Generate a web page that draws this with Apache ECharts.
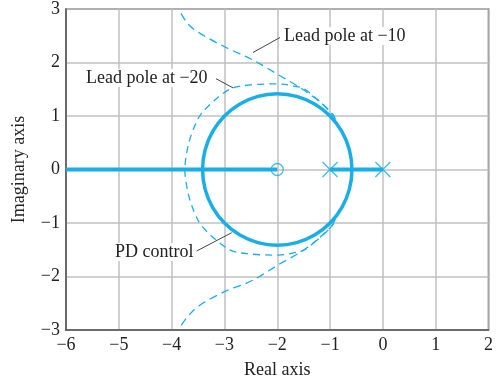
<!DOCTYPE html>
<html>
<head>
<meta charset="utf-8">
<script src="https://cdn.jsdelivr.net/npm/echarts@6/dist/echarts.min.js"></script>
<style>
html,body{margin:0;padding:0;background:#fff;}
#c{width:496px;height:385px;}
</style>
</head>
<body>
<div id="c"></div>
<script>
// ---- data ----
const xTicks = [-6, -5, -4, -3, -2, -1, 0, 1, 2];
const yTicks = [-3, -2, -1, 0, 1, 2, 3];

const pdCircle = [
  [-0.586,0],[-0.634,0.366],[-0.775,0.707],[-1,1],[-1.293,1.225],[-1.634,1.366],[-2,1.414],
  [-2.366,1.366],[-2.707,1.225],[-3,1],[-3.225,0.707],[-3.366,0.366],[-3.414,0],
  [-3.366,-0.366],[-3.225,-0.707],[-3,-1],[-2.707,-1.225],[-2.366,-1.366],[-2,-1.414],
  [-1.634,-1.366],[-1.293,-1.225],[-1,-1],[-0.775,-0.707],[-0.634,-0.366],[-0.586,0]
];

const lead10Upper = [[-0.9,0.93],[-0.97,1.04],[-1.2,1.27],[-1.57,1.53],[-1.98,1.77],[-2.32,1.97],[-2.57,2.10],[-2.97,2.28],[-3.44,2.53],[-3.69,2.72],[-3.87,3.0]];
const lead10Lower = [[-0.9,-0.93],[-0.98,-1.07],[-1.2,-1.28],[-1.57,-1.55],[-1.98,-1.78],[-2.32,-1.99],[-2.57,-2.12],[-2.97,-2.27],[-3.44,-2.52],[-3.69,-2.74],[-3.87,-2.99]];

const lead20 = [
  [-0.9,0.95],[-1.01,1.10],[-1.45,1.48],[-1.7,1.56],[-1.98,1.60],[-2.51,1.58],[-2.88,1.51],[-3.19,1.29],
  [-3.44,1.04],[-3.56,0.82],[-3.66,0.55],[-3.72,0.28],[-3.75,0],[-3.72,-0.28],[-3.66,-0.55],[-3.56,-0.82],
  [-3.44,-1.04],[-3.19,-1.29],[-2.88,-1.51],[-2.51,-1.58],[-1.98,-1.60],[-1.7,-1.56],[-1.45,-1.48],
  [-1.01,-1.10],[-0.9,-0.95]
];

const realAxisLeft = [[-6,0],[-2,0]];
const realAxisMid = [[-1,0],[0,0]];
const zeros = [[-2,0]];
const poles = [[-1,0],[0,0]];

const labels = {
  lead10: 'Lead pole at \u221210',
  lead20: 'Lead pole at \u221220',
  pd: 'PD control'
};

// ---- chart ----
const C = '#1aaee8';
const FONT = '"Liberation Serif","DejaVu Serif",serif';
const fmt = v => String(v).replace('-', '\u2212');

const chart = echarts.init(document.getElementById('c'), null, {renderer:'canvas'});

function lineSeries(data, opts) {
  return Object.assign({
    type: 'line', data: data, showSymbol: false, symbol: 'none',
    clip: true, animation: false, silent: true
  }, opts);
}

// smooth curve through data points (Catmull-Rom -> Bezier), positioned by the axes
function curveSeries(points, closed, width, dash) {
  return {
    type: 'custom', data: points, clip: true, silent: true, animation: false,
    renderItem: function (params, api) {
      if (params.dataIndex !== 0) return null;
      const p = points.map(d => api.coord(d));
      const n = p.length;
      const get = i => {
        if (closed) { return p[((i % (n - 1)) + (n - 1)) % (n - 1)]; }
        return p[Math.max(0, Math.min(n - 1, i))];
      };
      let d = 'M' + p[0][0] + ' ' + p[0][1];
      for (let i = 0; i < n - 1; i++) {
        const p0 = get(i - 1), p1 = get(i), p2 = get(i + 1), p3 = get(i + 2);
        const c1x = p1[0] + (p2[0] - p0[0]) / 6, c1y = p1[1] + (p2[1] - p0[1]) / 6;
        const c2x = p2[0] - (p3[0] - p1[0]) / 6, c2y = p2[1] - (p3[1] - p1[1]) / 6;
        d += 'C' + c1x + ' ' + c1y + ' ' + c2x + ' ' + c2y + ' ' + p2[0] + ' ' + p2[1];
      }
      return {
        type: 'path', shape: {pathData: d},
        style: {stroke: C, fill: 'none', lineWidth: width, lineDash: dash || null}
      };
    }
  };
}

chart.setOption({
  animation: false,
  backgroundColor: '#fff',
  grid: {left: 66, top: 8, right: 1, bottom: 55, show: true, borderColor: '#555', borderWidth: 1.5, backgroundColor: 'transparent'},
  xAxis: {
    type: 'value', min: -6, max: 2, interval: 1,
    name: 'Real axis', nameLocation: 'middle', nameGap: 31,
    nameTextStyle: {fontFamily: FONT, fontSize: 18, color: '#222'},
    axisLine: {show: true, onZero: false, lineStyle: {color: '#555', width: 1.5}},
    axisTick: {show: false},
    axisLabel: {formatter: fmt, fontFamily: FONT, fontSize: 18, color: '#222', margin: 6},
    splitLine: {show: true, lineStyle: {color: '#c0c0c0', width: 1.5}}
  },
  yAxis: {
    type: 'value', min: -3, max: 3, interval: 1,
    name: 'Imaginary axis', nameLocation: 'middle', nameGap: 38,
    nameTextStyle: {fontFamily: FONT, fontSize: 18, color: '#222'},
    axisLine: {show: true, onZero: false, lineStyle: {color: '#555', width: 1.5}},
    axisTick: {show: false},
    axisLabel: {formatter: fmt, fontFamily: FONT, fontSize: 18, color: '#222', margin: 6},
    splitLine: {show: true, lineStyle: {color: '#c0c0c0', width: 1.5}}
  },
  series: [
    curveSeries(lead10Upper, false, 1.3, [8, 5]),
    curveSeries(lead10Lower, false, 1.3, [8, 5]),
    curveSeries(lead20, false, 1.3, [7, 5]),
    lineSeries(realAxisLeft, {lineStyle: {color: C, width: 4}}),
    lineSeries(realAxisMid, {lineStyle: {color: C, width: 4}}),
    curveSeries(pdCircle, true, 3.5, null),
    {
      type: 'scatter', data: zeros, symbol: 'circle', symbolSize: 12, silent: true,
      itemStyle: {color: 'rgba(255,255,255,0)', borderColor: C, borderWidth: 1.3}
    },
    {
      type: 'scatter', data: poles, symbol: 'path://M0,0L10,10M10,0L0,10', symbolSize: 15, silent: true,
      itemStyle: {color: 'none', borderColor: C, borderWidth: 1.5}
    }
  ],
  graphic: [
    {type: 'line', shape: {x1: 253, y1: 52.5, x2: 280, y2: 37.5}, style: {stroke: '#444', lineWidth: 1}, z: 100},
    {type: 'text', left: 284, top: 27, style: {text: labels.lead10, font: '18px ' + FONT, fill: '#222', backgroundColor: '#fff'}, z: 100},
    {type: 'line', shape: {x1: 216, y1: 78.7, x2: 233.3, y2: 88}, style: {stroke: '#444', lineWidth: 1}, z: 100},
    {type: 'text', left: 86, top: 69, style: {text: labels.lead20, font: '18px ' + FONT, fill: '#222', backgroundColor: '#fff'}, z: 100},
    {type: 'line', shape: {x1: 196.7, y1: 251, x2: 231.7, y2: 232.7}, style: {stroke: '#444', lineWidth: 1}, z: 100},
    {type: 'text', left: 115, top: 243, style: {text: labels.pd, font: '18px ' + FONT, fill: '#222', backgroundColor: '#fff'}, z: 100}
  ]
});
</script>
</body>
</html>
